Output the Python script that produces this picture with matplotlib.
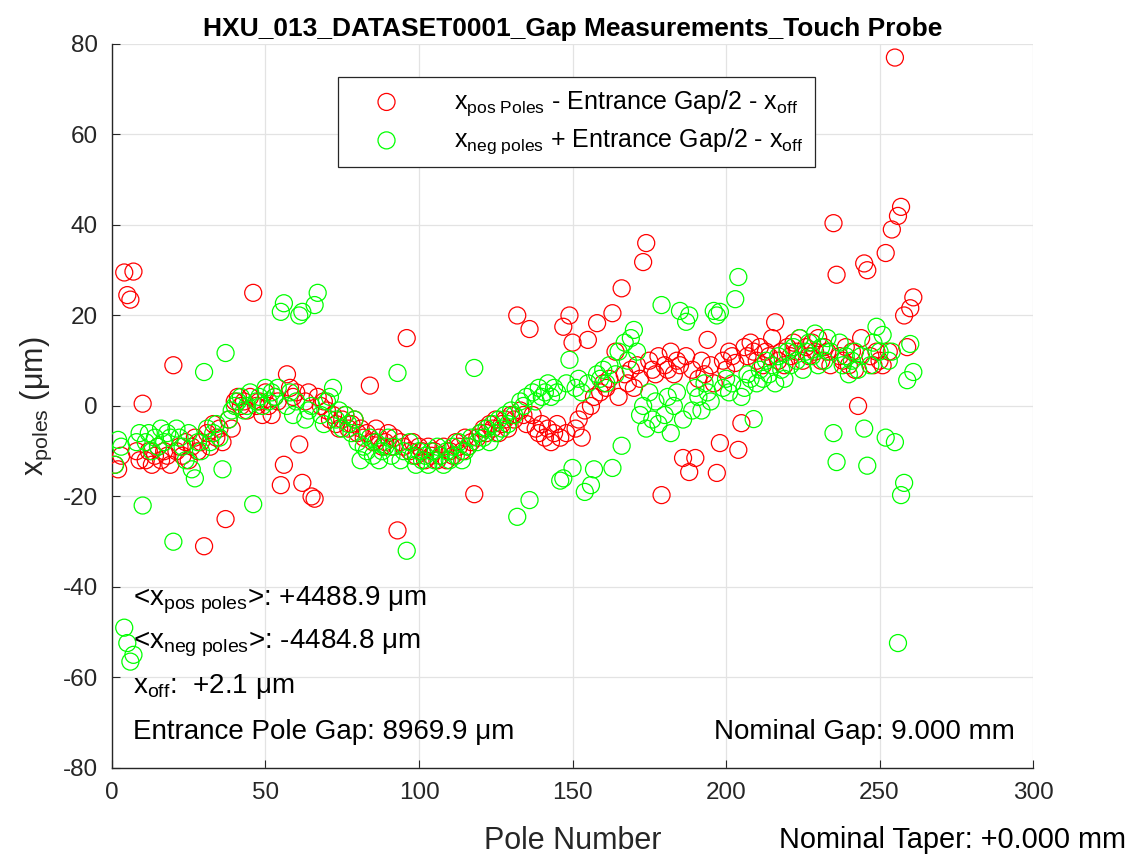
import matplotlib
matplotlib.use("Agg")
import matplotlib.pyplot as plt
import numpy as np

plt.rcParams['font.family'] = ['Liberation Sans', 'DejaVu Sans']
plt.rcParams['mathtext.fontset'] = 'custom'
plt.rcParams['mathtext.rm'] = 'Liberation Sans'
plt.rcParams['mathtext.it'] = 'Liberation Sans:italic'
plt.rcParams['axes.unicode_minus'] = False

# x_pos poles - entrance gap/2 - x_off  (um), poles 1..261
pos_vals = [
    -13, -14, -11, 29.5, 24.5, 23.5, 29.7, -10, -12, 0.5,
    -12, -10, -13, -11, -9, -12, -10, -11, -13, 9,
    -10, -9, -11, -8, -12, -9, -7, -10, -8, -31,
    -6, -9, -4, -7, -5, -8, -25, -3, -5, 1,
    2, 0, 1, -1, 2, 25, 0, 1, -2, 3,
    0, -2, 2, 1, -17.5, -13, 7, 4, 2, 3,
    -8.5, -17, 1, 3, -20, -20.5, 2, 0, 1, -1,
    -3, -2, -4, -5, -3, -2, -5, -4, -3, -6,
    -5, -7, -6, 4.5, -8, -5, -7, -9, -8, -6,
    -9, -7, -27.5, -8, -9, 15, -10, -8, -11, -9,
    -10, -12, -9, -11, -10, -12, -11, -9, -12, -10,
    -11, -8, -9, -10, -7, -9, -8, -19.5, -7, -6,
    -5, -6, -4, -5, -3, -6, -4, -3, -5, -2,
    -3, 20, -1, -2, -4, 17, -2, -5, -6, -4,
    -7, -5, -8, -6, -4, -7, 17.5, -6, 20, 14,
    -5, -3, -7, -1, 14.6, 0, 2, 18.3, 3, 5,
    4, 6, 20.5, 12, 2, 26, 7, 5, 8, 4,
    9, 6, 31.8, 36, 10, 8, 7, 11, -19.7, 9,
    8, 12, 7, 10, 9, -11.5, 11, -14.6, 8, -11.5,
    6, 10, 7, 14.6, 9, 5, -14.8, -8.2, 10, 8,
    12, 11, 9.5, -9.7, -3.8, 13, 11, 14, 12, 10,
    13, 9, 12, 11, 15, 18.5, 10, 12, 9, 13,
    11, 14, 12, 15, 10, 13, 11, 14, 12, 15,
    10, 13, 12, 9, 40.4, 29, 11, 10, 13, 9,
    12, 8, 0, 15, 31.5, 30, 11, 9, 12, 10,
    9, 33.8, 12, 39, 77, 42, 44, 20, 13, 21.6,
    24,
]

# x_neg poles + entrance gap/2 - x_off  (um), poles 1..261
neg_vals = [
    -13, -7.5, -9, -49, -52.4, -56.5, -55, -8, -6, -22,
    -8, -6, -10, -7, -9, -5, -8, -6, -7, -30,
    -5, -7, -9, -12, -6, -14, -16, -8, -10, 7.5,
    -5, -8, -6, -4, -7, -14, 11.7, -3, -1, 0,
    1, 2, -1, 0, 3, -21.7, 1, 2, 0, 4,
    1, 3, 2, 4, 20.8, 22.7, 0, 3, -2, 1,
    20, 20.8, -3, -1, 0, 22.3, 25, -2, -4, 1,
    2, 4, -3, -1, -5, -2, -4, -6, -3, -8,
    -12, -9, -10, -7, -11, -8, -12, -10, -9, -7,
    -11, -9, 7.3, -12, -10, -32, -8, -11, -13, -10,
    -12, -11, -13, -10, -12, -9, -11, -13, -10, -12,
    -9, -11, -8, -12, -10, -9, -7, 8.4, -8, -6,
    -7, -5, -8, -4, -6, -3, -5, -2, -4, -1,
    -2, -24.5, 1, 0, 2, -20.8, 3, 1, 4, 2,
    3, 5, 2, 4, 3, -16.5, -16, 5, 10.2, -13.7,
    4, 6, 3, -19, 5, -17.5, -14, 7, 6, 8,
    5, 9, -13.7, 7, 12, -8.8, 14, 10, 15, 16.8,
    12, -2, 0, -5, 3, -3, 1, -4, 22.3, -2,
    2, -6, 0, 3, 21, -3, 18.6, 20, -1, 4,
    2, -1, 5, 3, 1, 21, 20, 20.8, 4, 6,
    3, 5, 23.6, 28.5, 2, 4, 7, 6, -2.9, 5,
    8, 6, 10, 7, 9, 5, 11, 8, 6, 12,
    9, 13, 10, 15, 8, 12, 14, 11, 16, 9,
    13, 10, 15, 12, -6, -12.4, 14, 9, 11, 7,
    10, 12, 8, 11, -5, -13.2, 9, 14, 17.5, 12,
    15.7, -7, 10, 12, -8, -52.4, -19.7, -17, 5.7, 13.7,
    7.5,
]

poles = np.arange(1, len(pos_vals) + 1)

fig = plt.figure(figsize=(11.39, 8.59), dpi=100)
ax = fig.add_axes([0.0983, 0.106, 0.8087, 0.8428])

ax.scatter(poles, pos_vals, s=150, facecolors='none', edgecolors=(1, 0, 0), linewidths=0.9,
           label=r'x$_{\mathrm{pos\ Poles}}$ - Entrance Gap/2 - x$_{\mathrm{off}}$', zorder=3)
ax.scatter(poles, neg_vals, s=150, facecolors='none', edgecolors=(0, 1, 0), linewidths=0.9,
           label=r'x$_{\mathrm{neg\ poles}}$ + Entrance Gap/2 - x$_{\mathrm{off}}$', zorder=3)

ax.set_xlim(0, 300)
ax.set_ylim(-80, 80)
ax.set_xticks(range(0, 301, 50))
ax.set_yticks(range(-80, 81, 20))
ax.grid(True, color='#e3e3e3', linewidth=0.9)
ax.set_axisbelow(True)
for s in ['top', 'right']:
    ax.spines[s].set_visible(False)
for s in ['left', 'bottom']:
    ax.spines[s].set_color('#262626')
    ax.spines[s].set_linewidth(1.0)
ax.tick_params(direction='in', length=6, labelsize=17.5, colors='#262626', pad=10)

ax.set_title('HXU_013_DATASET0001_Gap Measurements_Touch Probe', fontsize=19, fontweight='bold', pad=6)
ax.set_xlabel('Pole Number', fontsize=22, color='#262626', labelpad=16)
ax.set_ylabel(r'x$_{\mathrm{poles}}$ (μm)', fontsize=22, color='#262626', labelpad=6)

leg = ax.legend(loc='upper center', bbox_to_anchor=(0.504, 0.972), fontsize=18, fancybox=False,
                edgecolor='#262626', framealpha=1, handletextpad=1.2, borderpad=0.45,
                labelspacing=0.35, handlelength=3.0)
leg.get_frame().set_linewidth(0.9)

ax.text(7, -43, r'<x$_{\mathrm{pos\ poles}}$>: +4488.9 μm', fontsize=20, va='center')
ax.text(7, -52.5, r'<x$_{\mathrm{neg\ poles}}$>: -4484.8 μm', fontsize=20, va='center')
ax.text(7, -62, r'x$_{\mathrm{off}}$:  +2.1 μm', fontsize=20, va='center')
ax.text(7, -72, 'Entrance Pole Gap: 8969.9 μm', fontsize=20, va='center')
ax.text(294, -72, 'Nominal Gap: 9.000 mm', fontsize=20, va='center', ha='right')
fig.text(0.989, 0.022, 'Nominal Taper: +0.000 mm', fontsize=20.8, ha='right', va='center')

fig.savefig('out.png', dpi=100)
